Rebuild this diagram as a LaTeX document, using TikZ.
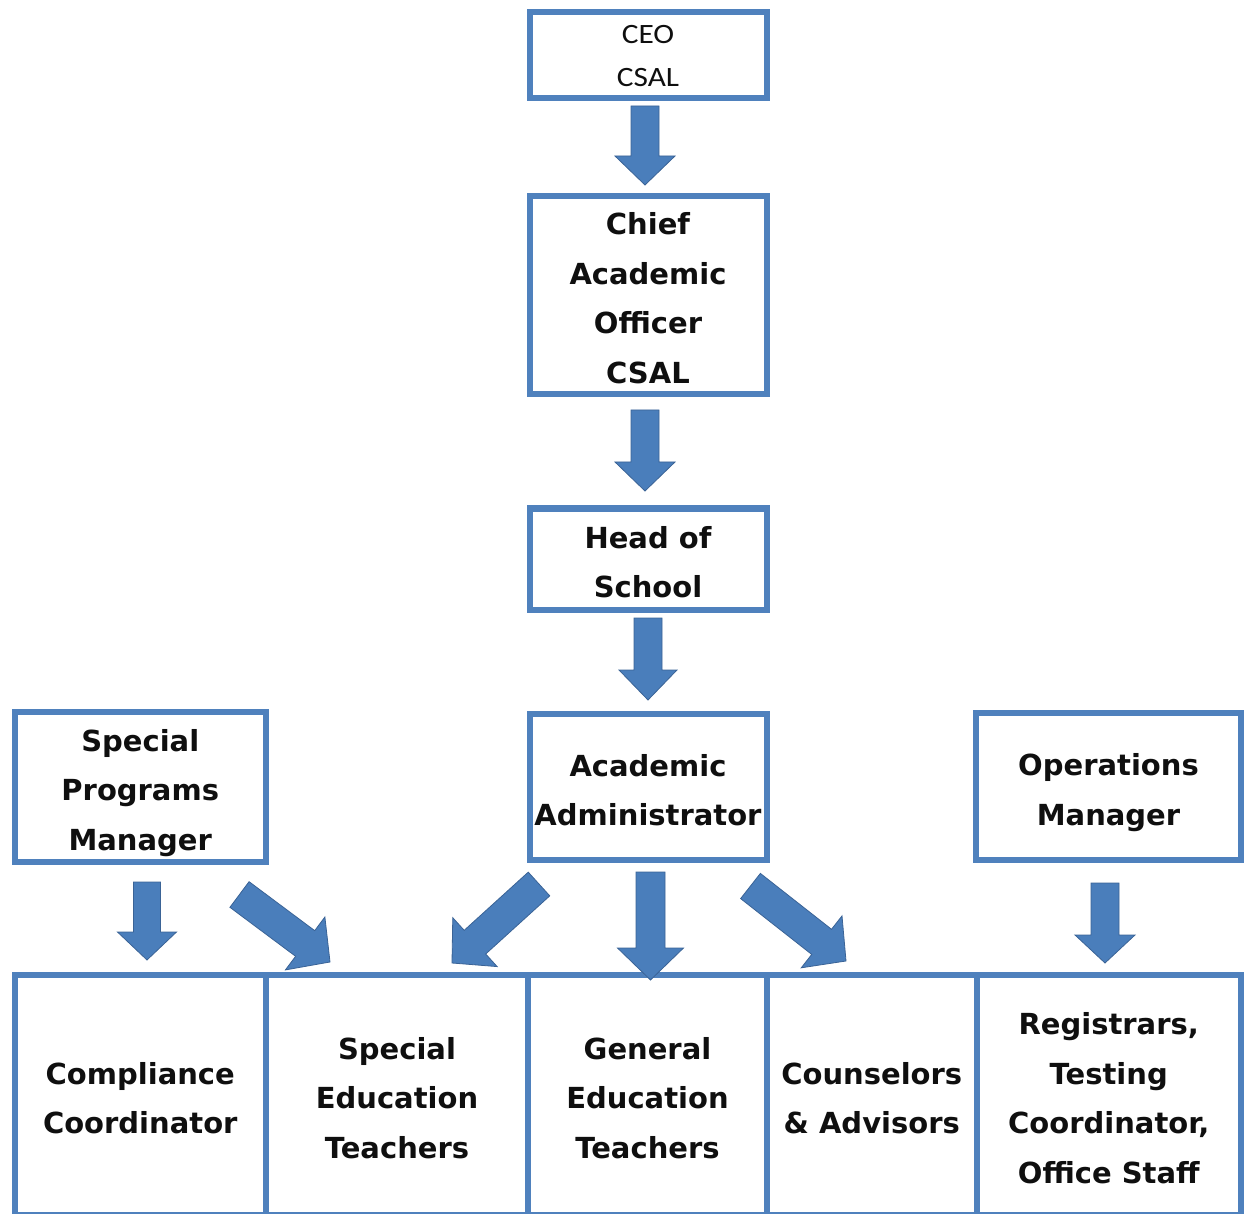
\documentclass[tikz,border=0pt]{standalone}
\usepackage{fontspec}
\setmainfont{DejaVu Sans}
\newfontfamily\ceofont[FakeStretch=1.12]{Carlito}
\usetikzlibrary{calc}
\definecolor{boxblue}{RGB}{79,129,189}
\definecolor{arrowblue}{RGB}{74,126,187}
\definecolor{arrowedge}{RGB}{58,99,150}
\definecolor{textblack}{RGB}{15,15,15}
\newcommand\lns[2][-4pt]{\raisebox{#1}[\height][\depth]{\begin{tabular}{@{}c@{}}#2\end{tabular}}}
\tikzset{
  orgbox/.style={draw=boxblue, line width=6pt, inner sep=0pt, outer sep=0pt,
    align=center, text=textblack, font=\fontsize{29}{49.7}\selectfont\bfseries},
  ceotext/.style={font=\ceofont\fontsize{28}{43}\selectfont},
  blockarr/.style={fill=arrowblue, draw=arrowedge, line width=0.8pt, line join=miter},
}
% #1 tail, #2 tip, #3 shaft half width, #4 head half width, #5 head length
\newcommand\blockarrow[5]{%
  \coordinate (#1-#2-base) at ($(#2)!#5!(#1)$);
  \path[blockarr]
    ($(#1)!#3!90:(#2)$) -- ($(#1-#2-base)!#3!-90:(#1)$) --
    ($(#1-#2-base)!#4!-90:(#1)$) -- (#2) --
    ($(#1-#2-base)!#4!90:(#1)$) -- ($(#1-#2-base)!#3!90:(#1)$) --
    ($(#1)!#3!-90:(#2)$) -- cycle;
}
\begin{document}
\begin{tikzpicture}[x=1pt,y=-1pt]
\useasboundingbox (0,0) rectangle (1251,1214);
\clip (0,0) rectangle (1251,1214);

% top chain
\node[orgbox, ceotext, minimum width=237pt, minimum height=82pt] (ceo) at (648,55.5) {\lns[-1pt]{CEO\\CSAL}};
\node[orgbox, minimum width=237pt, minimum height=197pt] (cao) at (648,295) {\lns{Chief\\Academic\\Officer\\CSAL}};
\node[orgbox, minimum width=237pt, minimum height=101pt] (hos) at (648,559) {\lns{Head of\\School}};
\node[orgbox, minimum width=237pt, minimum height=146pt] (aa) at (648,787) {\lns{Academic\\Administrator}};
\node[orgbox, minimum width=251.5pt, minimum height=148pt] (spm) at (140.25,787) {\lns{Special\\Programs\\Manager}};
\node[orgbox, minimum width=265pt, minimum height=147pt] (om) at (1108.5,786.5) {\lns{Operations\\Manager}};

% bottom row
\node[orgbox, minimum width=251.5pt, minimum height=240pt] (cc) at (140.25,1095) {\lns{Compliance\\Coordinator}};
\node[orgbox, minimum width=262pt, minimum height=240pt] (set) at (397,1095) {\lns{Special\\Education\\Teachers}};
\node[orgbox, minimum width=239pt, minimum height=240pt] (get) at (647.5,1095) {\lns{General\\Education\\Teachers}};
\node[orgbox, minimum width=209.5pt, minimum height=240pt] (ca) at (871.75,1095) {\lns{Counselors\\\& Advisors}};
\node[orgbox, minimum width=264.5pt, minimum height=240pt] (reg) at (1108.75,1095) {\lns{Registrars,\\Testing\\Coordinator,\\Office Staff}};

% arrow end points
\coordinate (t1) at (645,106);   \coordinate (h1) at (645,185);
\coordinate (t2) at (645,410);   \coordinate (h2) at (645,491);
\coordinate (t3) at (648,618);   \coordinate (h3) at (648,700);
\coordinate (t4) at (650.5,872); \coordinate (h4) at (650.5,980);
\coordinate (t5) at (147,882);   \coordinate (h5) at (147,960);
\coordinate (t6) at (1105,883);  \coordinate (h6) at (1105,963);
\coordinate (t7) at (239.5,894.5); \coordinate (h7) at (330,962);
\coordinate (t8) at (539,884);   \coordinate (h8) at (452,963);
\coordinate (t9) at (750.5,886); \coordinate (h9) at (846,961);

\blockarrow{t1}{h1}{14pt}{30pt}{29pt}
\blockarrow{t2}{h2}{14pt}{30pt}{29pt}
\blockarrow{t3}{h3}{14pt}{29pt}{30pt}
\blockarrow{t4}{h4}{14.5pt}{33pt}{32pt}
\blockarrow{t5}{h5}{13.5pt}{29.5pt}{28pt}
\blockarrow{t6}{h6}{14pt}{30pt}{28pt}
\blockarrow{t7}{h7}{16pt}{33pt}{31pt}
\blockarrow{t8}{h8}{16pt}{33pt}{31pt}
\blockarrow{t9}{h9}{16pt}{33pt}{31pt}
\end{tikzpicture}
\end{document}
